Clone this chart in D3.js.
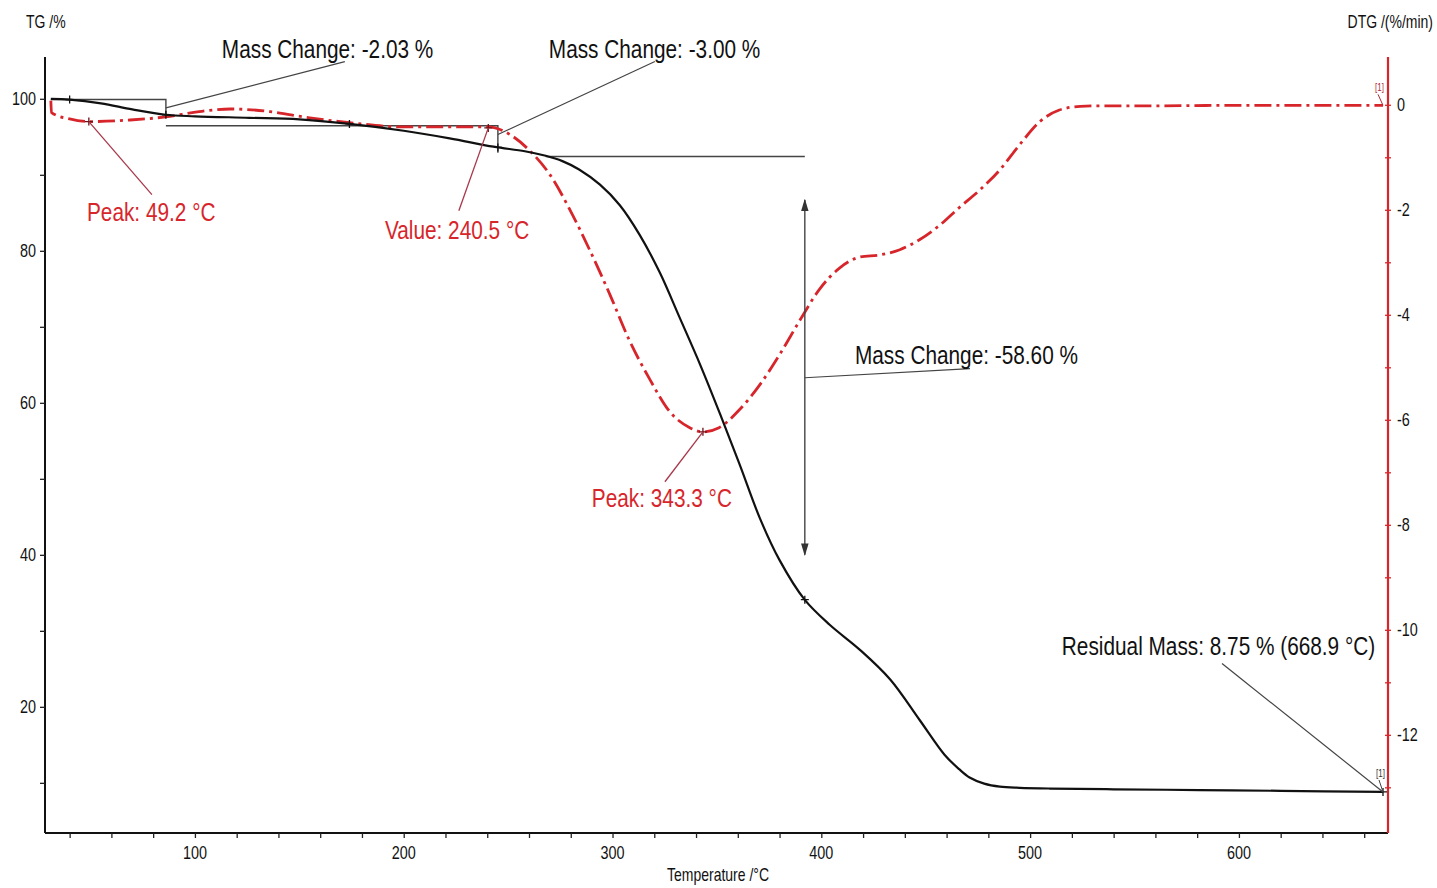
<!DOCTYPE html>
<html>
<head>
<meta charset="utf-8">
<script src="https://cdn.jsdelivr.net/npm/d3@7"></script>
<style>
  html, body { margin: 0; padding: 0; background: #fff; }
  svg { display: block; }
  text { font-family: "Liberation Sans", Arial, sans-serif; }
</style>
</head>
<body>
<svg id="chart" width="1437" height="888"></svg>
<script>
// ---- TG curve: temperature (°C) and remaining mass (%) ----
const tgTemp = [31, 40, 55, 70, 86, 100, 126, 150, 174, 200, 222, 243, 258, 268, 276, 284, 294, 303.5, 313, 322.7, 332, 342, 351.4, 361, 370.6, 380, 392, 404, 418.5, 433, 447, 459, 466, 471, 478, 485.5, 495, 509.5, 540, 581, 620, 669];
const tgMass = [100, 99.9, 99.4, 98.6, 97.9, 97.7, 97.5, 97.3, 96.7, 95.8, 94.8, 93.7, 93.1, 92.5, 91.8, 90.7, 88.7, 86, 82.1, 77.1, 71.3, 65.0, 58.6, 51.8, 44.8, 39.3, 34.1, 30.8, 27.5, 23.6, 18.3, 13.7, 11.8, 10.7, 9.9, 9.5, 9.35, 9.25, 9.15, 9.05, 8.95, 8.8];

// ---- DTG curve: temperature (°C) and rate (%/min) ----
const dtgTemp = [31, 31.3, 40, 49.2, 69, 86, 102, 117, 136, 155, 174, 198, 222, 240.5, 251, 260, 270, 279.6, 289, 298.8, 308, 318, 327.5, 337, 343.3, 351, 361, 370.6, 380, 389.8, 399, 409, 418.5, 428, 437.6, 447, 456.8, 466, 476, 485.5, 495, 504.7, 514, 524, 533, 560, 600, 640, 669];
const dtgRate = [0.08, -0.15, -0.27, -0.32, -0.29, -0.23, -0.13, -0.08, -0.13, -0.25, -0.34, -0.42, -0.42, -0.42, -0.57, -0.86, -1.33, -2.0, -2.76, -3.62, -4.48, -5.24, -5.85, -6.15, -6.23, -6.15, -5.8, -5.33, -4.76, -4.1, -3.52, -3.1, -2.9, -2.86, -2.76, -2.57, -2.29, -1.96, -1.62, -1.24, -0.76, -0.32, -0.1, -0.03, -0.02, -0.02, -0.01, -0.01, -0.01];

// ---- axes ----
const xDomain = [28.2, 671.4];
const tgDomain = [3.4, 105.5];
const dtgDomain = [-13.87, 0.91];
const xTicks = [100, 200, 300, 400, 500, 600];
const tgTicks = [20, 40, 60, 80, 100];
const dtgTicks = [-12, -10, -8, -6, -4, -2, 0];

// ---- mass-change steps ----
const massSteps = [
  { label: "Mass Change: -2.03 %", t0: 31, t1: 86.1, m0: 99.9, m1: 97.7, from: [86.1, 98.8], to: [171.8, 104.9], text: [112.9, 105.4] },
  { label: "Mass Change: -3.00 %", t0: 86.1, t1: 245.1, m0: 96.45, m1: 92.9, from: [245.1, 95.3], to: [320.3, 104.9], text: [269.5, 105.4] }
];
const bigStep = { label: "Mass Change: -58.60 %", t0: 268, t1: 392.1, level: 92.4, arrowTop: 86.7, arrowBottom: 40.0, from: [392.1, 63.3], to: [471.2, 64.5], text: [416.1, 65.1] };
const residual = { label: "Residual Mass: 8.75 % (668.9 °C)", point: [669, 8.8], from: [591.9, 25.7], text: [515.2, 26.8] };

// ---- DTG annotations ----
const dtgNotes = [
  { label: "Peak: 49.2 °C", point: [49.2, -0.32], to: [79.4, -1.71], text: [48.3, -2.21] },
  { label: "Value: 240.5 °C", point: [240.5, -0.44], to: [226.4, -2.02], text: [191, -2.55] },
  { label: "Peak: 343.3 °C", point: [343.3, -6.23], to: [325.1, -7.18], text: [290.1, -7.66] }
];
const tgMarks = [[40, 99.9], [86.1, 97.9], [174, 96.7], [245.1, 93.6], [392.1, 34.1], [669, 8.8]];

const svg = d3.select("#chart");
const plotLeft = 45, plotRight = 1388, plotTop = 57, plotBottom = 833;

const x = d3.scaleLinear().domain(xDomain).range([plotLeft, plotRight]);
const yTG = d3.scaleLinear().domain(tgDomain).range([plotBottom, plotTop]);
const yDTG = d3.scaleLinear().domain(dtgDomain).range([plotBottom, plotTop]);

const RED = "#d7262b";
const NARROW = 0.8;

// condensed text helper: Liberation Sans squeezed horizontally
function narrowText(g, px, py, str, size, fill, anchor) {
  return g.append("text")
    .attr("transform", `translate(${px},${py}) scale(${NARROW},1)`)
    .attr("font-size", size)
    .attr("fill", fill)
    .attr("text-anchor", anchor || "start")
    .text(str);
}

// ---- axes ----
const axisG = svg.append("g");
// bottom axis
const xAxis = d3.axisBottom(x).tickValues(d3.range(40, 671, 20)).tickSize(5).tickFormat("");
axisG.append("g").attr("transform", `translate(0,${plotBottom})`).call(xAxis)
  .call(g => g.select(".domain").attr("stroke", "#111").attr("stroke-width", 2).attr("d", `M${plotLeft},0H${plotRight}`))
  .call(g => g.selectAll(".tick line").attr("stroke", "#222").attr("stroke-width", 1.3));
xTicks.forEach(t => narrowText(axisG, x(t), plotBottom + 26, String(t), 18, "#111", "middle"));

// left TG axis
const tgAxis = d3.axisLeft(yTG).tickValues(d3.range(10, 106, 10)).tickSize(5).tickFormat("");
axisG.append("g").attr("transform", `translate(${plotLeft},0)`).call(tgAxis)
  .call(g => g.select(".domain").attr("stroke", "#111").attr("stroke-width", 2).attr("d", `M0,${plotTop}V${plotBottom}`))
  .call(g => g.selectAll(".tick line").attr("stroke", "#222").attr("stroke-width", 1.3));
tgTicks.forEach(t => narrowText(axisG, plotLeft - 9, yTG(t) + 6, String(t), 18, "#111", "end"));

// right DTG axis
const dtgAxis = d3.axisRight(yDTG).tickValues(d3.range(-13, 1, 1)).tickSize(3).tickFormat("");
axisG.append("g").attr("transform", `translate(${plotRight},0)`).call(dtgAxis)
  .call(g => g.select(".domain").attr("stroke", RED).attr("stroke-width", 2.2).attr("d", `M0,${plotTop}V${plotBottom}`))
  .call(g => g.selectAll(".tick line").attr("stroke", RED).attr("stroke-width", 1.3).attr("x1", -3));
dtgTicks.forEach(t => narrowText(axisG, plotRight + 9, yDTG(t) + 6, String(t), 18, "#111", "start"));

// axis titles
narrowText(svg, 26, 28, "TG /%", 17.5, "#111");
narrowText(svg, 1433, 28, "DTG /(%/min)", 17.5, "#111", "end");
narrowText(svg, 718, 881, "Temperature /°C", 17.5, "#111", "middle");

// ---- curves ----
const tgData = tgTemp.map((t, i) => [t, tgMass[i]]);
const dtgData = dtgTemp.map((t, i) => [t, dtgRate[i]]);

const tgLine = d3.line().x(d => x(d[0])).y(d => yTG(d[1])).curve(d3.curveCatmullRom.alpha(0.5));
const dtgLine = d3.line().x(d => x(d[0])).y(d => yDTG(d[1])).curve(d3.curveMonotoneX);

// step markers of the mass-change evaluations
const stepG = svg.append("g").attr("fill", "none").attr("stroke", "#444").attr("stroke-width", 1.4);
massSteps.forEach(s => {
  stepG.append("path").attr("d",
    `M${x(s.t0)},${yTG(s.m0)}H${x(s.t1)}V${yTG(s.m1)}`);
});
stepG.append("path").attr("d", `M${x(bigStep.t0)},${yTG(bigStep.level)}H${x(bigStep.t1)}`);

// DTG curve (dash-dot)
svg.append("path").datum(dtgData)
  .attr("d", dtgLine)
  .attr("fill", "none")
  .attr("stroke", RED)
  .attr("stroke-width", 2.8)
  .attr("stroke-dasharray", "17,5,3,5");

// TG curve
svg.append("path").datum(tgData)
  .attr("d", tgLine)
  .attr("fill", "none")
  .attr("stroke", "#111")
  .attr("stroke-width", 2.2);

// ---- arrow for the main mass-loss step ----
const defs = svg.append("defs");
defs.append("marker").attr("id", "ah").attr("viewBox", "0 0 10 10")
  .attr("refX", 9).attr("refY", 5).attr("markerWidth", 9).attr("markerHeight", 9)
  .attr("orient", "auto-start-reverse")
  .append("path").attr("d", "M0,2L10,5L0,8Z").attr("fill", "#333");
svg.append("line")
  .attr("x1", x(bigStep.t1)).attr("x2", x(bigStep.t1))
  .attr("y1", yTG(bigStep.arrowTop)).attr("y2", yTG(bigStep.arrowBottom))
  .attr("stroke", "#444").attr("stroke-width", 1.4)
  .attr("marker-start", "url(#ah)").attr("marker-end", "url(#ah)");

// ---- crosshair marks ----
function cross(g, px, py, color) {
  g.append("path").attr("d", `M${px - 4},${py}H${px + 4}M${px},${py - 4}V${py + 4}`)
    .attr("stroke", color).attr("stroke-width", 1.3);
}
const markG = svg.append("g");
tgMarks.forEach(p => cross(markG, x(p[0]), yTG(p[1]), "#111"));
dtgNotes.forEach(n => cross(markG, x(n.point[0]), yDTG(n.point[1]), "#6a1018"));

// ---- TG annotations ----
const noteG = svg.append("g");
massSteps.forEach(s => {
  noteG.append("line")
    .attr("x1", x(s.from[0])).attr("y1", yTG(s.from[1]))
    .attr("x2", x(s.to[0])).attr("y2", yTG(s.to[1]))
    .attr("stroke", "#444").attr("stroke-width", 1.2);
  narrowText(noteG, x(s.text[0]), yTG(s.text[1]), s.label, 26, "#111");
});
noteG.append("line")
  .attr("x1", x(bigStep.from[0])).attr("y1", yTG(bigStep.from[1]))
  .attr("x2", x(bigStep.to[0])).attr("y2", yTG(bigStep.to[1]))
  .attr("stroke", "#444").attr("stroke-width", 1.2);
narrowText(noteG, x(bigStep.text[0]), yTG(bigStep.text[1]), bigStep.label, 26, "#111");

noteG.append("line")
  .attr("x1", x(residual.from[0])).attr("y1", yTG(residual.from[1]))
  .attr("x2", x(residual.point[0])).attr("y2", yTG(residual.point[1]))
  .attr("stroke", "#444").attr("stroke-width", 1.2);
narrowText(noteG, x(residual.text[0]), yTG(residual.text[1]), residual.label, 26, "#111");

// curve tags at the end of each trace
const tgEnd = tgData[tgData.length - 1];
const dtgEnd = dtgData[dtgData.length - 1];
narrowText(noteG, x(tgEnd[0]) - 7, yTG(tgEnd[1]) - 15, "[1]", 10, "#333");
noteG.append("line").attr("x1", x(tgEnd[0]) - 4).attr("y1", yTG(tgEnd[1]) - 12)
  .attr("x2", x(tgEnd[0])).attr("y2", yTG(tgEnd[1])).attr("stroke", "#444").attr("stroke-width", 1);
narrowText(noteG, x(dtgEnd[0]) - 8, yDTG(dtgEnd[1]) - 14, "[1]", 10, "#b02a35");
noteG.append("line").attr("x1", x(dtgEnd[0]) - 5).attr("y1", yDTG(dtgEnd[1]) - 11)
  .attr("x2", x(dtgEnd[0])).attr("y2", yDTG(dtgEnd[1])).attr("stroke", "#b02a35").attr("stroke-width", 1);

// ---- DTG annotations ----
dtgNotes.forEach(n => {
  noteG.append("line")
    .attr("x1", x(n.point[0])).attr("y1", yDTG(n.point[1]))
    .attr("x2", x(n.to[0])).attr("y2", yDTG(n.to[1]))
    .attr("stroke", "#a8384a").attr("stroke-width", 1.3);
  narrowText(noteG, x(n.text[0]), yDTG(n.text[1]), n.label, 26, RED);
});
</script>
</body>
</html>
